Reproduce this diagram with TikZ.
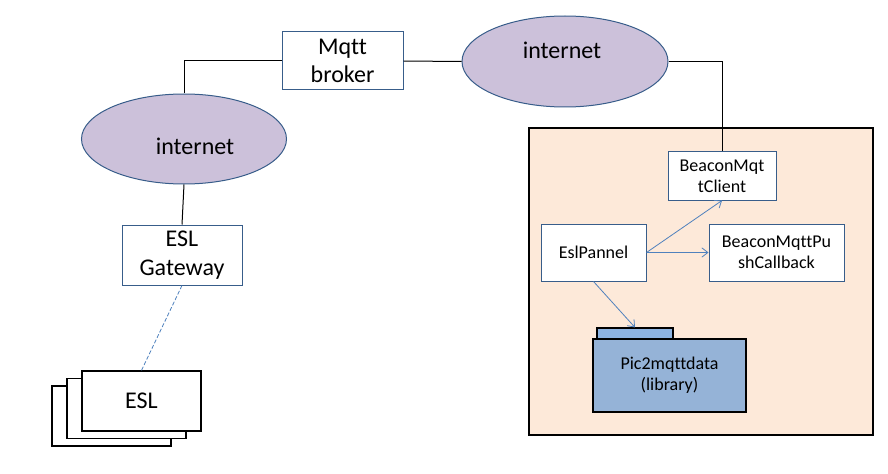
\documentclass[tikz,border=0pt]{standalone}
\usepackage{fontspec}
\setmainfont{Carlito}[Ligatures={NoCommon}]
\usetikzlibrary{shapes.geometric,arrows.meta}
\definecolor{boxline}{HTML}{385D8A}
\definecolor{ellfill}{HTML}{CCC1DA}
\definecolor{panelfill}{HTML}{FDE9D9}
\definecolor{arrowblue}{HTML}{4F81BD}
\definecolor{libfill}{HTML}{95B3D7}
\definecolor{tabfill}{HTML}{8DB4E2}
\tikzset{
  bigtext/.style={font=\fontsize{18}{21.5}\selectfont, align=center},
  smalltext/.style={font=\fontsize{13.5}{16}\selectfont, align=center},
  bluebox/.style={draw=boxline, fill=white, line width=0.75pt, rectangle, inner sep=0pt},
  eslbox/.style={draw=black, fill=white, line width=0.9pt, rectangle, inner sep=0pt, minimum width=89.25pt, minimum height=45pt},
  cloud/.style={ellipse, draw=boxline, fill=ellfill, line width=0.75pt, inner sep=0pt},
  wire/.style={draw=black, line width=0.75pt},
  uses/.style={draw=arrowblue, line width=0.6pt, -{Straight Barb[length=4.5pt,width=7pt]}},
}
\begin{document}
\begin{tikzpicture}[x=0.75pt,y=-0.75pt]
\useasboundingbox (0,0) rectangle (888,474);
% panel
\node[draw=black, fill=panelfill, line width=0.8pt, rectangle, inner sep=0pt,
      minimum width=258pt, minimum height=230.25pt] (panel) at (701,281.5) {};
% clouds
\node[cloud, minimum width=153.75pt, minimum height=67.5pt] (cloudL) at (184,139) {};
\node[bigtext] (cloudLtext) at (195,146) {internet};
\node[cloud, minimum width=154.5pt, minimum height=68.25pt] (cloudR) at (565,61.5) {};
\node[bigtext] (cloudRtext) at (562,50) {internet};
% boxes
\node[bluebox, bigtext, minimum width=90.75pt, minimum height=43.5pt] (broker) at (342.5,61) {Mqtt\\broker};
\node[bluebox, bigtext, minimum width=90pt, minimum height=45pt] (gw) at (182,255) {ESL\\Gateway};
% ESL stack
\node[eslbox] (esl3) at (111.5,416) {};
\node[eslbox] (esl2) at (126.5,408.5) {};
\node[eslbox, bigtext] (esl1) at (141.5,401) {ESL};
% inner boxes
\node[bluebox, smalltext, minimum width=81pt, minimum height=36pt] (client) at (722,176) {BeaconMqt\\tClient};
\node[bluebox, smalltext, minimum width=78.75pt, minimum height=42.75pt] (pannel) at (593.5,252.5) {EslPannel};
\node[bluebox, smalltext, minimum width=101.25pt, minimum height=42.75pt] (push) at (776.5,252.5) {BeaconMqttPu\\shCallback};
% library folder
\node[draw=black, fill=tabfill, line width=0.8pt, rectangle, inner sep=0pt,
      minimum width=57pt, minimum height=8.25pt] (tab) at (635,333.5) {};
\node[draw=black, fill=libfill, line width=0.8pt, rectangle, inner sep=0pt, smalltext,
      minimum width=114.75pt, minimum height=54.75pt] (lib) at (669.5,375.5) {Pic2mqttdata\\(library)};
% wires
\draw[wire] (broker.west) -| (cloudL.north);
\draw[wire] (cloudL.south) -- (gw.north);
\draw[wire] (broker.east) -- (cloudR.west);
\draw[wire] (cloudR.east) -| (client.north);
\draw[draw=arrowblue, line width=0.6pt, dashed, dash pattern=on 3pt off 1.5pt] (gw.south) -- (esl1.north);
% arrows
\draw[uses] (pannel.east) -- (client.south);
\draw[uses] (pannel.east) -- (push.west);
\draw[uses] (pannel.south) -- (tab.north);
\end{tikzpicture}
\end{document}
